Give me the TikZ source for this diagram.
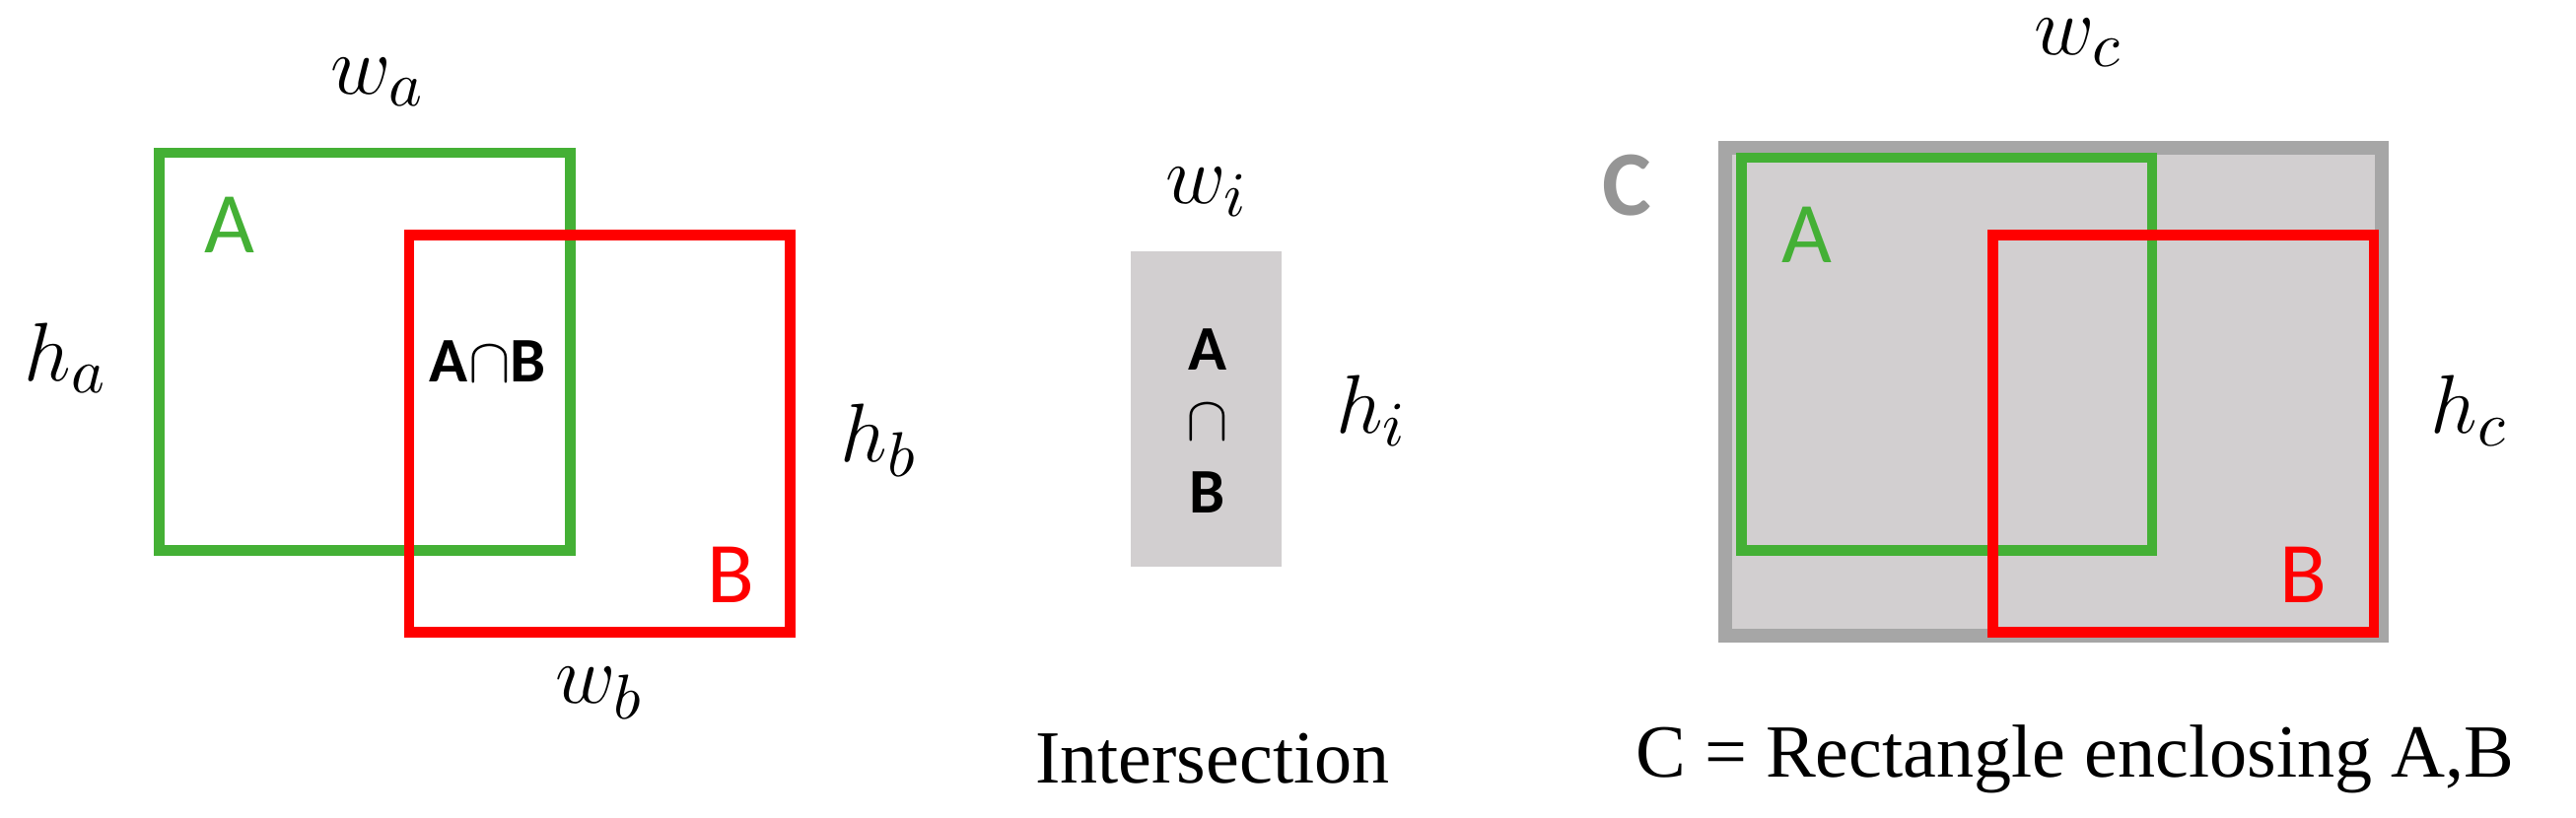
\documentclass[tikz,border=0pt]{standalone}
\usepackage{fontspec}
\setmainfont{Liberation Serif}
\newfontfamily\sanf{Carlito}
\definecolor{gA}{HTML}{44B035}
\definecolor{rB}{HTML}{FF0000}
\definecolor{fillC}{HTML}{D2CFD0}
\definecolor{bordC}{HTML}{A6A6A6}
\begin{document}
\begin{tikzpicture}[x=0.1mm,y=-0.1mm,
  boxA/.style={draw=gA,line width=1.8pt},
  boxB/.style={draw=rB,line width=1.8pt},
  mlab/.style={font=\fontsize{15}{17}\selectfont},
  slab/.style={font=\sanf\fontsize{15}{17}\selectfont},
  captxt/.style={font=\fontsize{13}{15}\selectfont}]
\useasboundingbox (0,0) rectangle (1568,498);
% left
\draw[boxA] (97,93) rectangle (347,335);
\draw[boxB] (249,143) rectangle (481,385);
\node[mlab] (wa) at (230,50) {$w_a$};
\node[mlab] (ha) at (40,218) {$h_a$};
\node[mlab] (hb) at (535,268) {$h_b$};
\node[mlab] (wb) at (365,422) {$w_b$};
\node[slab,text=gA] (la) at (140,137) {A};
\node[slab,text=rB] (lb) at (445,350) {B};
\node[font=\sanf\bfseries\fontsize{11}{13}\selectfont] (ab) at (297,220) {A$\cap$B};
% middle
\fill[fillC] (688,153) rectangle (780,345);
\node[mlab] (wi) at (735,117) {$w_i$};
\node[mlab] (hi) at (835,250) {$h_i$};
\node[font=\sanf\bfseries\fontsize{11}{13}\selectfont] (ia) at (735,213) {A};
\node[font=\sanf\bfseries\fontsize{11}{13}\selectfont] (ic) at (735,257) {$\cap$};
\node[font=\sanf\bfseries\fontsize{11}{13}\selectfont] (ib) at (735,300) {B};
\node[captxt] (int) at (738,462) {Intersection};
% right
\draw[fill=fillC,draw=bordC,line width=2.4pt] (1050,90) rectangle (1450,387);
\draw[boxA] (1060,96) rectangle (1310,335);
\draw[boxB] (1213,143) rectangle (1445,385);
\node[font=\sanf\bfseries\fontsize{16}{18}\selectfont,text=bordC!90!black] (lc) at (990,113) {C};
\node[slab,text=gA] (ra) at (1100,143) {A};
\node[slab,text=rB] (rb) at (1402,350) {B};
\node[mlab] (wc) at (1265,26) {$w_c$};
\node[mlab] (hc) at (1503,250) {$h_c$};
\node[captxt] (cc) at (1263,462) {C = Rectangle enclosing A,B};
\end{tikzpicture}
\end{document}
